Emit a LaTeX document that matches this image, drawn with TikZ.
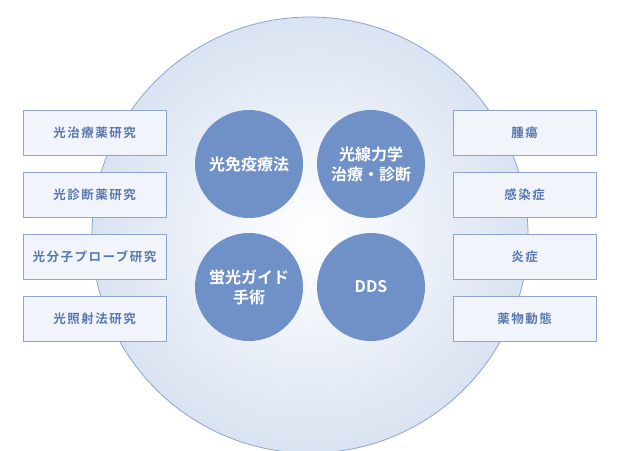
\documentclass[tikz,border=0pt]{standalone}
\usepackage{fontspec}
\newfontfamily\cjk{Noto Sans CJK JP}[BoldFont={* Bold}]
\newfontfamily\cjks{Noto Sans CJK JP}[BoldFont={* Bold},LetterSpace=12]
\begin{document}
\begin{tikzpicture}[x=1pt,y=-1pt,
  lbox/.style={draw=edgeblue,line width=0.8pt,fill=boxfill,minimum width=143pt,minimum height=45pt,inner sep=0pt,font=\cjks\bfseries\fontsize{12.5}{14}\selectfont,text=txtblue},
  topic/.style={circle,fill=topicblue,minimum size=108pt,inner sep=0pt,align=center,text=white,font=\cjk\bfseries\fontsize{16}{20}\selectfont}]
\definecolor{edgeblue}{HTML}{8FA4CF}
\definecolor{boxfill}{HTML}{F1F5FB}
\definecolor{txtblue}{HTML}{5A78B0}
\definecolor{topicblue}{HTML}{7090C8}
\definecolor{ringblue}{HTML}{DAE3F2}
\useasboundingbox (0,0) rectangle (620,450);
\fill[white] (0,0) rectangle (620,450);
\node[circle,minimum size=436pt,draw=edgeblue,line width=0.8pt,inner color=white,outer color=ringblue] (big) at (310,235) {};
\foreach \t [count=\i] in {光治療薬研究,光診断薬研究,光分子プローブ研究,光照射法研究}
  \node[lbox] (l\i) at (94.5,{132.5+62*(\i-1)}) {\t};
\foreach \t [count=\i] in {腫瘍,感染症,炎症,薬物動態}
  \node[lbox] (r\i) at (524.5,{132.5+62*(\i-1)}) {\t};
\node[topic] (c1) at (249,164) {光免疫療法};
\node[topic] (c2) at (371,164) {光線力学\\治療・診断};
\node[topic] (c3) at (249,287) {蛍光ガイド\\手術};
\node[topic] (c4) at (371,287) {DDS};
\end{tikzpicture}
\end{document}
